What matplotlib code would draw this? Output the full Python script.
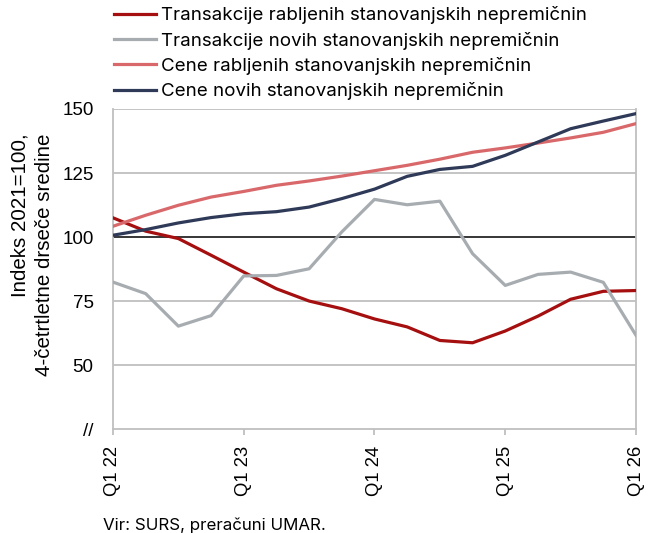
import numpy as np
import matplotlib
matplotlib.use("Agg")
import matplotlib.pyplot as plt

# quarters Q1 22 .. Q1 26
quarters = ["Q1 22", "Q2 22", "Q3 22", "Q4 22",
            "Q1 23", "Q2 23", "Q3 23", "Q4 23",
            "Q1 24", "Q2 24", "Q3 24", "Q4 24",
            "Q1 25", "Q2 25", "Q3 25", "Q4 25", "Q1 26"]

trans_rabljene = [107.5, 102.3, 99.4, 92.9, 86.3, 79.8, 75.0, 72.0, 68.0,
                  64.9, 59.6, 58.7, 63.3, 69.1, 75.7, 78.8, 79.1]
trans_nove = [82.4, 77.9, 65.2, 69.3, 84.8, 85.0, 87.6, 102.0, 114.7,
              112.6, 114.0, 93.5, 81.1, 85.4, 86.3, 82.3, 61.6]
cene_rabljene = [104.2, 108.5, 112.4, 115.6, 117.8, 120.2, 121.9, 123.8, 125.9,
                 128.0, 130.4, 133.1, 134.8, 136.7, 138.7, 140.9, 144.3]
cene_nove = [100.7, 102.9, 105.5, 107.6, 109.1, 109.9, 111.7, 115.0, 118.7,
             123.7, 126.4, 127.6, 131.9, 137.1, 142.3, 145.3, 148.2]

labels = ["Transakcije rabljenih stanovanjskih nepremičnin",
          "Transakcije novih stanovanjskih nepremičnin",
          "Cene rabljenih stanovanjskih nepremičnin",
          "Cene novih stanovanjskih nepremičnin"]
colors = ["#A50F0F", "#A7ACB1", "#D9686B", "#2F3A58"]

yticks = [25, 50, 75, 100, 125, 150]
ytick_labels = ["//", "50", "75", "100", "125", "150"]

plt.rcParams["font.family"] = ["Liberation Sans", "DejaVu Sans"]
grid_col = "#BFBFBF"

fig = plt.figure(figsize=(6.5, 5.33), dpi=100)
ax = fig.add_axes([0.1738, 0.195, 0.8047, 0.6005])

x = np.arange(len(quarters))
series = [trans_rabljene, trans_nove, cene_rabljene, cene_nove]
handles = []
for s, c, lab in zip(series, colors, labels):
    h, = ax.plot(x, s, color=c, lw=2.3, label=lab, zorder=3)
    handles.append(h)

ax.axhline(100, color="#262626", lw=1.3, zorder=2)
ax.set_ylim(25, 150)
ax.set_xlim(0, len(quarters) - 1)
ax.set_yticks(yticks)
ax.set_yticklabels(ytick_labels, fontsize=13.5)
for v in [50, 75, 125, 150]:
    ax.axhline(v, color=grid_col, lw=1.3, zorder=1)

xt = list(range(0, len(quarters), 4))
ax.set_xticks(xt)
ax.set_xticklabels([quarters[i] for i in xt], rotation=90, fontsize=13.3)
ax.tick_params(axis="y", length=0, pad=14)
ax.tick_params(axis="x", length=4, color=grid_col, width=1.3, pad=8)

for side in ["left", "right", "bottom"]:
    ax.spines[side].set_color(grid_col)
    ax.spines[side].set_linewidth(1.3)
ax.spines["top"].set_visible(False)

# y label, two lines right aligned (top ends)
fig.text(0.05, 0.522, "Indeks 2021=100,\n4-četrtletne drseče sredine",
         rotation=90, ha="center", va="center", multialignment="right",
         fontsize=14.8, linespacing=1.4)

fig.legend(handles=handles, loc="upper left", bbox_to_anchor=(0.176, 0.988),
           frameon=False, handlelength=2.2, handletextpad=0.28,
           labelspacing=0.39, borderaxespad=0, borderpad=0,
           prop={"family": ["Inter", "DejaVu Sans"], "size": 13.5})

fig.text(0.158, 0.006, "Vir: SURS, preračuni UMAR.", fontsize=12.2,
         family=["Inter", "DejaVu Sans"])

fig.savefig("out.png", dpi=100)
